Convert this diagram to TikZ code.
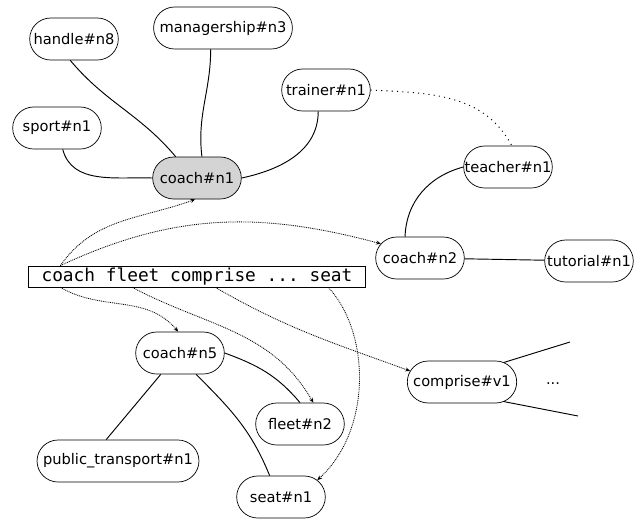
\documentclass[tikz,border=0pt]{standalone}
\usepackage{fontspec}
\setmainfont{DejaVu Sans}
\setmonofont{DejaVu Sans Mono}
\usetikzlibrary{shapes.misc,arrows.meta}

\tikzset{
  sense/.style={rounded rectangle, draw, line width=0.6pt, minimum width=2.94cm, minimum height=1.26cm, inner xsep=4pt, font=\fontsize{12.5}{15}\selectfont},
  rel/.style={line width=0.8pt},
  link/.style={line width=0.7pt, dash pattern=on 0.8pt off 0.8pt, -{Stealth[length=4pt,width=3.5pt]}},
  sim/.style={line width=0.8pt, dash pattern=on 0.9pt off 3.6pt}
}

\begin{document}
\begin{tikzpicture}[x=0.03cm, y=-0.03cm]
          \useasboundingbox (0, 0) rectangle (636, 521);
          \node[sense] (handle) at (74, 39) {handle\#n8};
          \node[sense] (managership) at (223, 28) {managership\#n3};
          \node[sense] (trainer) at (326, 90) {trainer\#n1};
          \node[sense] (sport) at (57, 128) {sport\#n1};
          \node[sense, fill=black!17] (coach1) at (197, 178) {coach\#n1};
          \node[sense] (teacher) at (508, 167) {teacher\#n1};
          \node[sense] (coach2) at (420, 258) {coach\#n2};
          \node[sense] (tutorial) at (589, 261) {tutorial\#n1};
          \node[sense] (coach5) at (180, 353) {coach\#n5};
          \node[sense] (fleet) at (300, 424) {fleet\#n2};
          \node[sense] (transport) at (118, 461) {public\_transport\#n1};
          \node[sense] (seat) at (281, 497) {seat\#n1};
          \node[sense] (comprise) at (462, 382) {comprise\#v1};
          \node (more) at (553, 384) {\fontsize{12.5}{15}\selectfont ...};
          %
          \node[draw, line width=0.6pt, inner xsep=11pt, inner ysep=0pt, minimum height=0.63cm, font=\ttfamily\fontsize{15.2}{17}\selectfont] (sent) at (197, 276.5) {coach fleet comprise ... seat};
          %
          \coordinate (up) at (570, 342);
          \coordinate (down) at (578, 416);
          \draw[rel] (sport) to[out=-75, in=178] (coach1.west);
          \draw[rel] (handle.-100) to[out=-50, in=130] (coach1.135);
          \draw[rel] (managership.-120) to[out=-90, in=97] (coach1.77);
          \draw[rel] (trainer.-110) to[out=-90, in=12] (coach1.east);
          \draw[sim] (trainer.east) to[out=-3, in=118] (teacher.80);
          \draw[rel] (teacher.west) to[out=195, in=88] (coach2.125);
          \draw[rel] (coach2) -- (tutorial);
          \draw[rel] (coach5.east) to[out=-20, in=130] (fleet.north);
          \draw[rel] (coach5.-132) -- (transport.119);
          \draw[rel] (coach5.-53) to[out=-45, in=112] (seat.118);
          \draw[rel] (comprise.25) -- (up);
          \draw[rel] (comprise.-25) -- (down);
          %
          \draw[link] ([xshift=0.96cm]sent.north west) to[out=55, in=200] (coach1.-95);
          \draw[link] ([xshift=0.96cm]sent.north west) to[out=25, in=165] (coach2.160);
          \draw[link] ([xshift=0.96cm]sent.south west) to[out=-30, in=130] (coach5.95);
          \draw[link] ([xshift=3.12cm]sent.south west) to[out=-28, in=120] (fleet.58);
          \draw[link] ([xshift=5.61cm]sent.south west) to[out=-30, in=160] (comprise.168);
          \draw[link] ([xshift=9.0cm]sent.south west) .. controls +(42, 45) and +(55, -50) .. (seat.25);
        \end{tikzpicture}
\end{document}
